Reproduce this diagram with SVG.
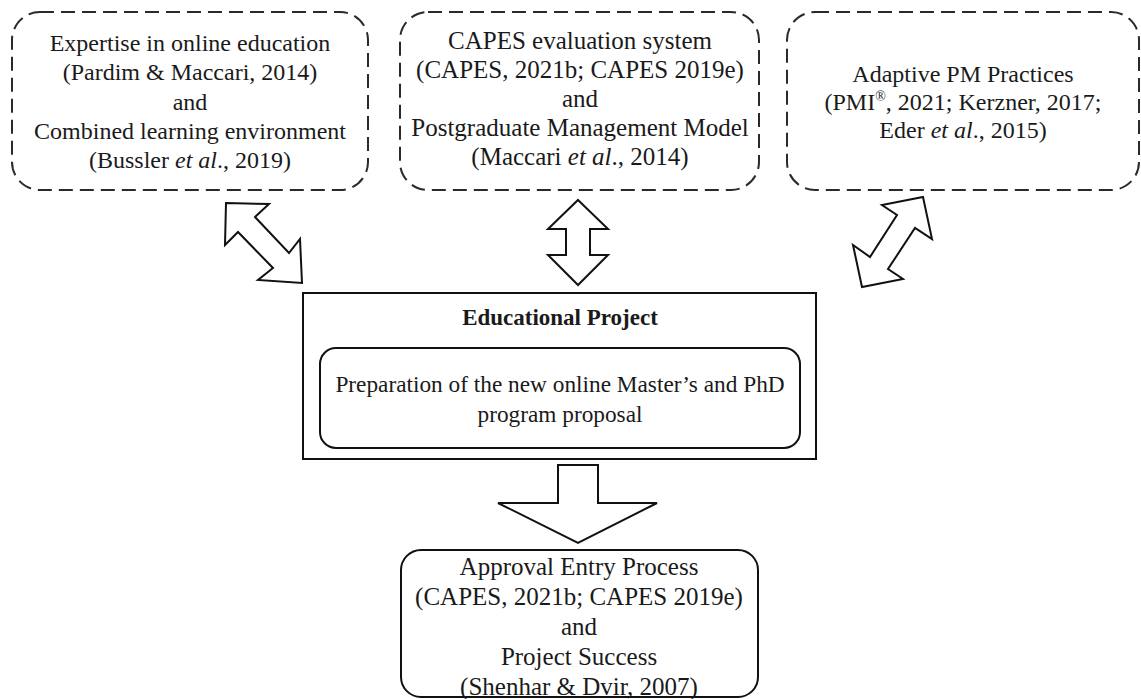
<svg xmlns="http://www.w3.org/2000/svg" width="1141" height="699" viewBox="0 0 1141 699">
  <style>
    text { font-family: "Liberation Serif", "Times New Roman", serif; font-size: 24px; fill: #1a1a1a; text-anchor: middle; }
    .big { font-size: 25px; }
    .inner { font-size: 23.3px; }
    .bold { font-weight: bold; font-size: 23px; }
    .dashed { fill: #ffffff; stroke: #2a2a2a; stroke-width: 2; stroke-dasharray: 14 7; }
    .solid { fill: #ffffff; stroke: #111111; stroke-width: 2; }
    .arrow { fill: #ffffff; stroke: #111111; stroke-width: 2; stroke-linejoin: miter; }
  </style>

  <rect x="0" y="0" width="1141" height="699" fill="#ffffff"/>

  <!-- Source boxes -->
  <g id="node-expertise">
    <rect class="dashed" x="12" y="12" width="356" height="178" rx="28" ry="28"/>
    <text x="190" y="51">Expertise in online education</text>
    <text x="190" y="80">(Pardim &amp; Maccari, 2014)</text>
    <text x="190" y="110">and</text>
    <text x="190" y="139">Combined learning environment</text>
    <text x="190" y="168">(Bussler <tspan font-style="italic">et al</tspan>., 2019)</text>
  </g>

  <g id="node-capes">
    <rect class="dashed" x="400" y="12" width="359" height="178" rx="28" ry="28"/>
    <g class="big">
      <text class="big" x="580" y="49">CAPES evaluation system</text>
      <text class="big" x="580" y="78">(CAPES, 2021b; CAPES 2019e)</text>
      <text class="big" x="580" y="107">and</text>
      <text class="big" x="580" y="136">Postgraduate Management Model</text>
      <text class="big" x="580" y="165">(Maccari <tspan font-style="italic">et al</tspan>., 2014)</text>
    </g>
  </g>

  <g id="node-adaptive">
    <rect class="dashed" x="787" y="12" width="352" height="178" rx="28" ry="28"/>
    <text x="963" y="82">Adaptive PM Practices</text>
    <text x="963" y="110">(PMI<tspan font-size="14" dy="-9">®</tspan><tspan dy="9">, 2021; Kerzner, 2017;</tspan></text>
    <text x="963" y="138">Eder <tspan font-style="italic">et al</tspan>., 2015)</text>
  </g>

  <!-- Central project box -->
  <g id="node-project">
    <rect class="solid" x="303" y="293" width="513" height="166"/>
    <text class="bold" x="560" y="325">Educational Project</text>
    <rect class="solid" x="320" y="348" width="480" height="100" rx="16" ry="16" stroke-width="1.6"/>
    <text class="inner" x="560" y="392">Preparation of the new online Master’s and PhD</text>
    <text class="inner" x="560" y="422">program proposal</text>
  </g>

  <!-- Outcome box -->
  <g id="node-outcome">
    <rect class="solid" x="401" y="550" width="357" height="147" rx="20" ry="20"/>
    <text class="big" x="579" y="575">Approval Entry Process</text>
    <text class="big" x="579" y="605">(CAPES, 2021b; CAPES 2019e)</text>
    <text class="big" x="579" y="635">and</text>
    <text class="big" x="579" y="665">Project Success</text>
    <text class="big" x="579" y="695">(Shenhar &amp; Dvir, 2007)</text>
  </g>

  <!-- Block arrows linking the boxes -->
  <g id="connectors">
    <polygon class="arrow" points="226,203 269,204 255,217 289,253 300,239 302,283 258,280 273,268 238,232 225,245"/>
    <polygon class="arrow" points="578,200 608,229 590,229 590,255 608,255 578,285 548,255 566,255 566,229 548,229"/>
    <polygon class="arrow" points="923,197 932,239 915,228 888,269 903,279 862,287 853,245 870,257 897,215 882,205"/>
    <polygon class="arrow" points="558,465 598,465 598,503 657,503 578,543 498,503 558,503"/>
  </g>
</svg>
